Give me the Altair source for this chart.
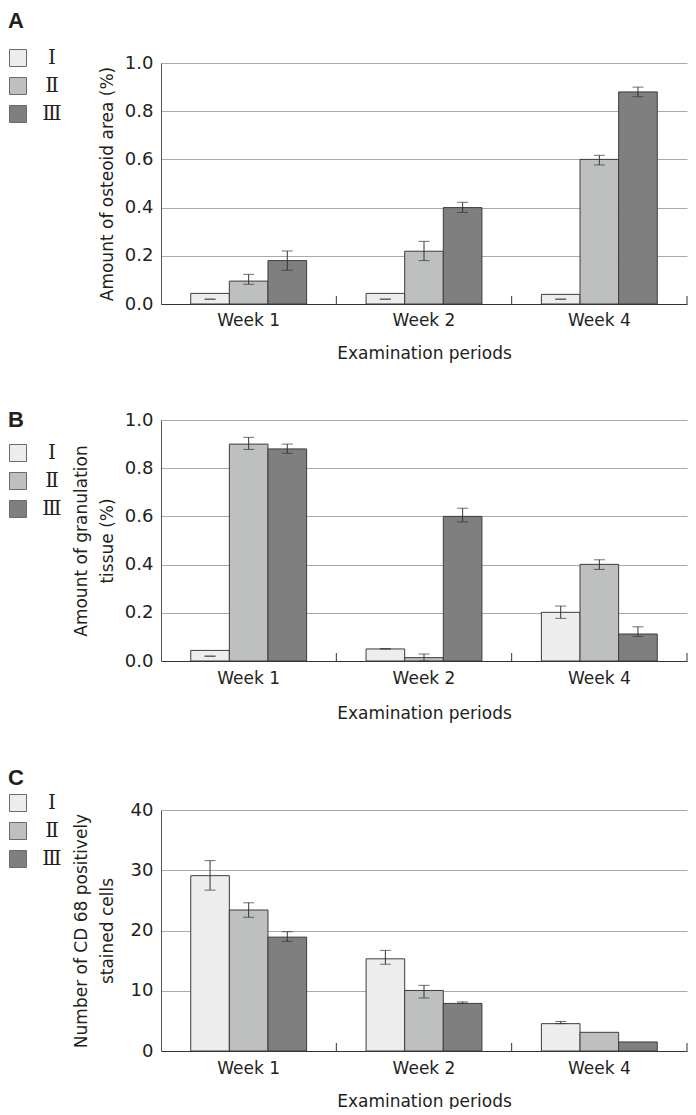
import altair as alt
import pandas as pd

weeks = ["Week 1", "Week 2", "Week 4"]
groups = ["Ⅰ", "Ⅱ", "Ⅲ"]
colors = ["#ecedec", "#bebfbf", "#7f7f7f"]

# Panel A: amount of osteoid area (%)
osteoid_I = [0.044, 0.044, 0.040]
osteoid_I_lo = [0.020, 0.020, 0.020]
osteoid_I_hi = [0.020, 0.020, 0.020]
osteoid_II = [0.095, 0.219, 0.600]
osteoid_II_lo = [0.082, 0.180, 0.577]
osteoid_II_hi = [0.123, 0.260, 0.617]
osteoid_III = [0.180, 0.400, 0.880]
osteoid_III_lo = [0.140, 0.380, 0.860]
osteoid_III_hi = [0.220, 0.422, 0.900]

# Panel B: amount of granulation tissue (%)
gran_I = [0.044, 0.050, 0.202]
gran_I_lo = [0.020, 0.050, 0.177]
gran_I_hi = [0.020, 0.051, 0.228]
gran_II = [0.900, 0.014, 0.401]
gran_II_lo = [0.878, 0.000, 0.380]
gran_II_hi = [0.928, 0.029, 0.420]
gran_III = [0.880, 0.600, 0.112]
gran_III_lo = [0.862, 0.577, 0.102]
gran_III_hi = [0.900, 0.634, 0.142]

# Panel C: number of CD 68 positively stained cells
cd68_I = [29.1, 15.3, 4.54]
cd68_I_lo = [26.7, 14.4, 4.54]
cd68_I_hi = [31.6, 16.7, 4.90]
cd68_II = [23.4, 10.05, 3.1]
cd68_II_lo = [22.2, 8.8, None]
cd68_II_hi = [24.6, 10.9, None]
cd68_III = [18.9, 7.9, 1.5]
cd68_III_lo = [18.2, 7.9, None]
cd68_III_hi = [19.8, 8.15, None]

ticks_A = [0.0, 0.2, 0.4, 0.6, 0.8, 1.0]
ticks_C = [0, 10, 20, 30, 40]

FONT = "DejaVu Sans"
TXT = "#231f20"
W, H = 526, 241


def make_df(means, los, his):
    rows = []
    for g, m, l, h in zip(groups, means, los, his):
        for w, mv, lv, hv in zip(weeks, m, l, h):
            rows.append({"week": w, "group": g, "value": mv, "lo": lv, "hi": hv})
    return pd.DataFrame(rows)


def panel(df, letter, ytitle, ydomain, yvals, yfmt, legend_y, title_off,
          ytitle_pad, xlabel_pad, xtitle_pad):
    xscale = alt.Scale(domain=weeks, paddingInner=0, paddingOuter=0)
    xaxis = alt.Axis(title="Examination periods", labelAngle=0, ticks=False,
                     labelPadding=xlabel_pad, titlePadding=xtitle_pad,
                     domainColor="#333333", labelFontSize=17, titleFontSize=17,
                     labelFont=FONT, titleFont=FONT, labelColor=TXT, titleColor=TXT,
                     titleFontWeight="normal")
    x = alt.X("week:N", sort=weeks, scale=xscale, axis=xaxis)
    xoff = alt.XOffset("group:N", sort=groups,
                       scale=alt.Scale(domain=groups, paddingInner=0, paddingOuter=0.77))
    yscale = alt.Scale(domain=ydomain, nice=False, zero=True)
    yaxis = alt.Axis(title=ytitle, values=yvals, format=yfmt, ticks=False,
                     grid=True, gridColor="#a9a9a9", gridWidth=1,
                     domainColor="#555555", labelFontSize=18, labelPadding=8,
                     labelFont=FONT, titleFont=FONT, titleFontSize=17,
                     titleFontWeight="normal", labelColor=TXT, titleColor=TXT,
                     titlePadding=ytitle_pad, titleLineHeight=26)
    y = alt.Y("value:Q", scale=yscale, axis=yaxis)

    legend = alt.Legend(orient="none", legendX=-153, legendY=legend_y, title=None,
                        symbolType="square", symbolSize=289, symbolStrokeColor="#6a6a6a",
                        symbolStrokeWidth=1, symbolOpacity=1, labelFont="DejaVu Serif",
                        labelFontSize=20, labelColor=TXT, labelAlign="center",
                        labelOffset=24, rowPadding=6)
    fill = alt.Fill("group:N", sort=groups,
                    scale=alt.Scale(domain=groups, range=colors), legend=legend)

    bars = alt.Chart(df).mark_bar(stroke="#3c3c3c", strokeWidth=1, opacity=1).encode(
        x=x, xOffset=xoff, y=y, fill=fill
    )
    err = alt.Chart(df).transform_filter("datum.lo != null")
    rules = err.mark_rule(color="#333333", strokeWidth=1).encode(
        x=x, xOffset=xoff, y=alt.Y("lo:Q", scale=yscale, axis=yaxis), y2="hi:Q"
    )
    cap_lo = err.mark_tick(orient="horizontal", size=11, thickness=1, color="#333333").encode(
        x=x, xOffset=xoff, y=alt.Y("lo:Q", scale=yscale, axis=yaxis)
    )
    cap_hi = err.mark_tick(orient="horizontal", size=11, thickness=1, color="#333333").encode(
        x=x, xOffset=xoff, y=alt.Y("hi:Q", scale=yscale, axis=yaxis)
    )
    band_ticks = alt.Chart(pd.DataFrame({"week": weeks})).mark_rule(
        color="#333333", strokeWidth=1
    ).encode(
        x=alt.X("week:N", sort=weeks, scale=xscale, axis=xaxis, bandPosition=1),
        y=alt.value(H - 8), y2=alt.value(H)
    )
    return alt.layer(bars, rules, cap_lo, cap_hi, band_ticks).properties(
        width=W, height=H,
        title=alt.TitleParams(text=letter, anchor="start", frame="bounds", fontSize=22,
                              fontWeight="bold", font="Liberation Sans", color=TXT,
                              offset=title_off),
    )


dfA = make_df([osteoid_I, osteoid_II, osteoid_III],
              [osteoid_I_lo, osteoid_II_lo, osteoid_III_lo],
              [osteoid_I_hi, osteoid_II_hi, osteoid_III_hi])
dfB = make_df([gran_I, gran_II, gran_III],
              [gran_I_lo, gran_II_lo, gran_III_lo],
              [gran_I_hi, gran_II_hi, gran_III_hi])
dfC = make_df([cd68_I, cd68_II, cd68_III],
              [cd68_I_lo, cd68_II_lo, cd68_III_lo],
              [cd68_I_hi, cd68_II_hi, cd68_III_hi])

pA = panel(dfA, "A", "Amount of osteoid area (%)", [0, 1], ticks_A, ".1f",
           -15, 15, 8, 8, 17)
pB = panel(dfB, "B", ["Amount of granulation", "tissue (%)"], [0, 1], ticks_A, ".1f",
           23, -21, 8, 9, 19)
pC = panel(dfC, "C", ["Number of CD 68 positively", "stained cells"], [0, 40], ticks_C, "d",
           -17, 3, 14, 9, 17)

res_scales = dict(x="independent", y="independent", fill="independent", xOffset="independent")

top = alt.vconcat(pA, pB, spacing=48).resolve_scale(**res_scales).resolve_legend(fill="independent")

chart = alt.vconcat(top, pC, spacing=46).resolve_scale(**res_scales).resolve_legend(
    fill="independent"
).properties(
    padding={"left": 0, "top": 2, "right": 0, "bottom": 0}, background="white"
).configure_view(stroke=None)

chart.save("out.html", embed_options={"renderer": "svg", "actions": False})
